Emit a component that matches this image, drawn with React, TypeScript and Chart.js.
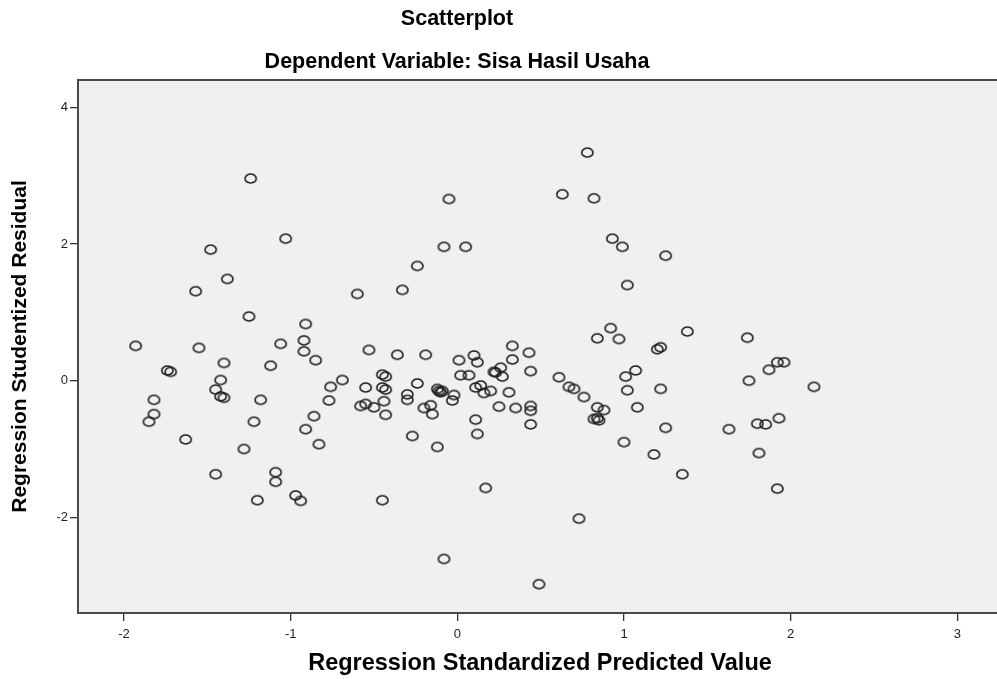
import React, { useEffect, useRef } from 'react';
import { Chart, registerables } from 'chart.js';

Chart.register(...registerables);

const TITLE = 'Scatterplot';
const SUBTITLE = 'Dependent Variable: Sisa Hasil Usaha';
const X_LABEL = 'Regression Standardized Predicted Value';
const Y_LABEL = 'Regression Studentized Residual';

const X_TICKS = [-2, -1, 0, 1, 2, 3];
const Y_TICKS = [-2, 0, 2, 4];

const predicted = [
  -1.24, -1.03, -1.48, -1.38, -1.57, -0.60, -0.33, -1.25, -0.91, -1.93,
  -1.55, -1.06, -0.92, -0.92, -0.53, 0.78, -0.05, 0.63, 0.82, -0.08,
  0.05, -0.24, 0.93, 0.99, 1.25, 1.02, 0.92, 0.84, 0.97, 1.38,
  1.20, 1.22, 0.33, 1.74, -0.85, -1.40, -1.12, -1.74, -1.72, -1.42,
  -1.45, -1.42, -1.40, -0.69, -0.76, -0.77, -0.55, -0.45, -0.43, -0.45,
  -0.43, -0.58, -0.55, -0.50, -0.44, -0.43, -1.82, -1.82, -1.85, -1.18,
  -1.22, -0.86, -0.91, -0.83, -1.63, -1.28, -1.45, -1.09, -1.09, -1.20,
  -0.97, -0.94, -0.45, -0.36, -0.19, 0.01, 0.10, 0.12, 0.33, 0.43,
  0.44, 0.22, 0.23, 0.26, 0.27, 0.02, 0.07, -0.24, -0.30, -0.30,
  -0.12, -0.11, -0.10, -0.09, -0.02, -0.03, -0.20, -0.16, -0.15, -0.27,
  -0.12, 0.11, 0.14, 0.16, 0.20, 0.31, 0.25, 0.35, 0.44, 0.44,
  0.44, 0.11, 0.12, 0.61, 0.67, 0.70, 0.76, 1.07, 1.01, 1.02,
  1.22, 1.08, 0.84, 0.88, 0.82, 0.84, 0.85, 1.25, 1.00, 1.18,
  1.35, 0.17, 0.73, -0.08, 0.49, 1.87, 1.92, 1.96, 1.75, 2.14,
  1.93, 1.80, 1.85, 1.63, 1.81, 1.92,
];

const residual = [
  2.96, 2.08, 1.92, 1.49, 1.31, 1.27, 1.33, 0.94, 0.83, 0.51,
  0.48, 0.54, 0.59, 0.43, 0.45, 3.34, 2.66, 2.73, 2.67, 1.96,
  1.96, 1.68, 2.08, 1.96, 1.83, 1.40, 0.77, 0.62, 0.61, 0.72,
  0.46, 0.49, 0.51, 0.63, 0.30, 0.26, 0.22, 0.15, 0.13, 0.01,
  -0.13, -0.23, -0.25, 0.01, -0.09, -0.29, -0.10, 0.09, 0.06, -0.10,
  -0.13, -0.37, -0.34, -0.39, -0.30, -0.50, -0.28, -0.49, -0.60, -0.28,
  -0.60, -0.52, -0.71, -0.93, -0.86, -1.00, -1.37, -1.34, -1.48, -1.75,
  -1.68, -1.76, -1.75, 0.38, 0.38, 0.30, 0.37, 0.27, 0.31, 0.41,
  0.14, 0.13, 0.12, 0.19, 0.06, 0.08, 0.08, -0.04, -0.20, -0.28,
  -0.12, -0.15, -0.17, -0.15, -0.21, -0.29, -0.40, -0.36, -0.49, -0.81,
  -0.97, -0.10, -0.07, -0.18, -0.15, -0.17, -0.38, -0.40, -0.37, -0.44,
  -0.64, -0.57, -0.78, 0.05, -0.09, -0.12, -0.24, 0.15, 0.06, -0.14,
  -0.12, -0.39, -0.39, -0.43, -0.56, -0.55, -0.58, -0.69, -0.90, -1.08,
  -1.37, -1.57, -2.02, -2.61, -2.98, 0.16, 0.27, 0.27, 0.00, -0.09,
  -0.55, -0.63, -0.64, -0.71, -1.06, -1.58,
];

const X_MIN = -2.276;
const X_MAX = 3.268;
const Y_MIN = -3.401;
const Y_MAX = 4.403;

const FONT = 'Arial, "Liberation Sans", sans-serif';

function makeMarker(): HTMLCanvasElement {
  const c = document.createElement('canvas');
  c.width = 15;
  c.height = 13;
  const g = c.getContext('2d')!;
  g.strokeStyle = '#1e1e1e';
  g.lineWidth = 1.6;
  g.beginPath();
  g.ellipse(7.5, 6.5, 5.6, 4.5, 0, 0, Math.PI * 2);
  g.stroke();
  return c;
}

const framePlugin = {
  id: 'spssFrame',
  beforeDraw(chart: any) {
    const { ctx, chartArea: a } = chart;
    ctx.save();
    ctx.fillStyle = '#f0f0f0';
    ctx.fillRect(a.left, a.top, a.right - a.left, a.bottom - a.top);
    ctx.restore();
  },
  afterDraw(chart: any) {
    const { ctx, chartArea: a } = chart;
    ctx.save();
    ctx.strokeStyle = '#4a4a4a';
    ctx.lineWidth = 2;
    ctx.strokeRect(a.left, a.top, a.right - a.left, a.bottom - a.top);
    ctx.fillStyle = '#000';
    ctx.textAlign = 'center';
    ctx.textBaseline = 'middle';
    ctx.font = `bold 21.5px ${FONT}`;
    ctx.fillText(TITLE, 457, 19);
    ctx.fillText(SUBTITLE, 457, 62);
    ctx.restore();
  },
};

export default function App() {
  const ref = useRef<HTMLCanvasElement | null>(null);

  useEffect(() => {
    if (!ref.current) return;
    const marker = makeMarker();
    const points = predicted.map((x, i) => ({ x, y: residual[i] }));
    const chart = new Chart(ref.current, {
      type: 'scatter',
      data: {
        datasets: [
          {
            data: points,
            pointStyle: marker as any,
            pointRadius: 6,
            pointHoverRadius: 6,
            backgroundColor: 'transparent',
            borderColor: '#222',
          },
        ],
      },
      options: {
        animation: false,
        responsive: false,
        devicePixelRatio: 1,
        layout: { padding: { top: 80, left: 0, right: 0, bottom: 0 } },
        plugins: {
          legend: { display: false },
          tooltip: { enabled: false },
          title: { display: false },
        },
        scales: {
          x: {
            type: 'linear',
            min: X_MIN,
            max: X_MAX,
            afterBuildTicks: (s: any) => {
              s.ticks = X_TICKS.map((v) => ({ value: v }));
            },
            afterFit: (s: any) => {
              s.height = 66;
              s.paddingLeft = 0;
              s.paddingRight = 0;
            },
            grid: {
              display: true,
              drawOnChartArea: false,
              drawTicks: true,
              tickLength: 8,
              color: '#333',
              lineWidth: 1.3,
            },
            border: { display: true, color: '#4a4a4a', width: 2 },
            ticks: {
              font: { family: FONT, size: 13 },
              color: '#222',
              padding: 6,
              maxRotation: 0,
              callback: (v: any) => String(v),
            },
            title: {
              display: true,
              text: X_LABEL,
              color: '#000',
              font: { family: FONT, size: 23.5, weight: 'bold' },
              padding: { top: 0, bottom: 1 },
            },
          },
          y: {
            type: 'linear',
            min: Y_MIN,
            max: Y_MAX,
            afterBuildTicks: (s: any) => {
              s.ticks = Y_TICKS.map((v) => ({ value: v }));
            },
            afterFit: (s: any) => {
              s.width = 78;
              s.paddingTop = 0;
              s.paddingBottom = 0;
            },
            grid: {
              display: true,
              drawOnChartArea: false,
              drawTicks: true,
              tickLength: 8,
              color: '#333',
              lineWidth: 1.3,
            },
            border: { display: true, color: '#4a4a4a', width: 2 },
            ticks: {
              font: { family: FONT, size: 13 },
              color: '#222',
              padding: 2,
              callback: (v: any) => String(v),
            },
            title: {
              display: true,
              text: Y_LABEL,
              color: '#000',
              font: { family: FONT, size: 21, weight: 'bold' },
              padding: { top: 8, bottom: 0 },
            },
          },
        },
      },
      plugins: [framePlugin],
    });
    return () => chart.destroy();
  }, []);

  return (
    <div
      style={{
        position: 'fixed',
        left: 0,
        top: 0,
        width: 997,
        height: 679,
        overflow: 'hidden',
        background: '#fff',
      }}
    >
      <canvas ref={ref} width={1009} height={679} style={{ display: 'block' }} />
    </div>
  );
}
